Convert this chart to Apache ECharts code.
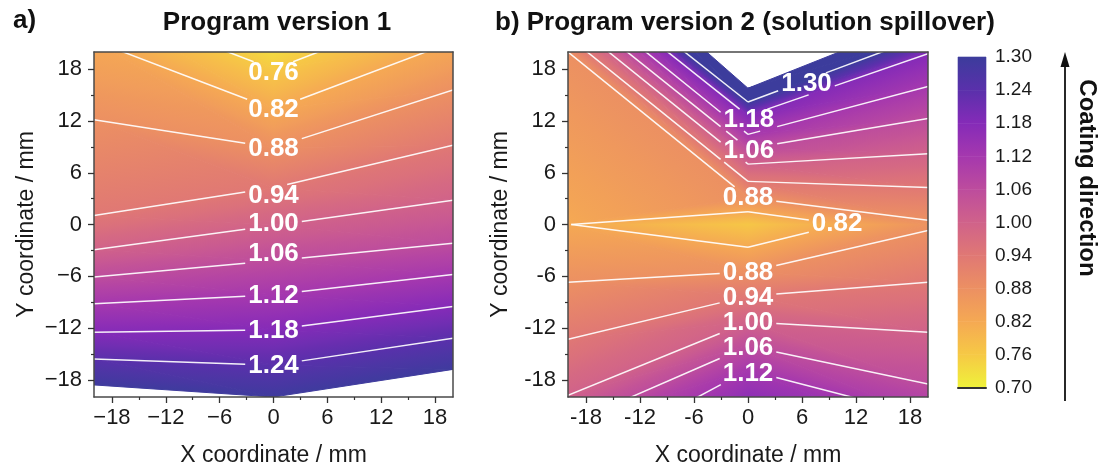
<!DOCTYPE html>
<html>
<head>
<meta charset="utf-8">
<title>Coating thickness maps</title>
<script src="https://cdn.jsdelivr.net/npm/echarts@6/dist/echarts.min.js"></script>
<style>
    html, body { margin: 0; padding: 0; background: #fff; }
    #thickness-chart { width: 1106px; height: 472px; }
</style>
</head>
<body>
<div id="thickness-chart"></div>
<script>
    // measuring columns across the sample (x / mm)
    var columnX = [-20, 0, 20];

    // program version 1: rows of equal thickness, y / mm where each column reaches the value
    var valueA   = [0.70, 0.76, 0.82, 0.88, 0.94, 1.00, 1.06, 1.12, 1.18, 1.24, 1.295];
    var leftYA   = [30.5, 25.9, 21.3, 12.15, 1.05, -2.94, -6.1, -9.2, -12.5, -15.6, -18.6];
    var centerYA = [22.65, 18.0, 13.35, 8.9, 4.27, -0.1, -4.2, -8.15, -12.2, -16.3, -20];
    var rightYA  = [30.8, 26.0, 21.2, 15.6, 9.2, 2.8, -2.17, -5.8, -9.5, -13.2, -16.8];

    // program version 2 (solution spillover)
    var leftYB       = [34.1, 30.7, 29.2, 27.3, 25.5, 23.8, 21.8, 20.0, 0, -6.7, -13.3, -19.8, -23.2, -28, -31];
    var centerYB     = [15.8, 14.2, 12.6, 10.45, 8.8, 7.0, 5.0, 3.1, 0, -5.5, -8.3, -11.3, -14.1, -16.9, -20.5];
    var rightYB      = [24.1, 22.0, 19.8, 16.0, 12.3, 8.2, 4.3, 0.5, 0, -0.7, -6.7, -12.5, -18.5, -22.3, -25];
    var leftValueB   = [1.34, 1.30, 1.18, 1.12, 1.06, 1.00, 0.94, 0.88, 0.821, 0.88, 0.94, 1.00, 1.06, 1.12, 1.17];
    var centerValueB = [1.34, 1.30, 1.18, 1.12, 1.06, 1.00, 0.94, 0.88, 0.765, 0.88, 0.94, 1.00, 1.06, 1.12, 1.17];
    var rightValueB  = [1.34, 1.30, 1.18, 1.12, 1.06, 1.00, 0.94, 0.88, 0.872, 0.88, 0.94, 1.00, 1.06, 1.12, 1.17];

    // contour lines that are drawn
    var levelsA = [0.76, 0.82, 0.88, 0.94, 1.00, 1.06, 1.12, 1.18, 1.24];
    var levelsB = [0.82, 0.88, 0.94, 1.00, 1.06, 1.12, 1.18, 1.30];

    // contour labels
    var labelPosA  = [[0, 17.6], [0, 13.24], [0, 8.79], [0, 3.37], [0, 0.08], [0, -3.4], [0, -8.25], [0, -12.3], [0, -16.4]];
    var labelTextA = ['0.76', '0.82', '0.88', '0.94', '1.00', '1.06', '1.12', '1.18', '1.24'];
    var labelPosB  = [[6.5, 16.3], [0.1, 12.1], [0.1, 8.5], [0, 3.08], [9.9, 0.08], [0, -5.63], [0, -8.54], [0, -11.44], [0, -14.34], [0, -17.3]];
    var labelTextB = ['1.30', '1.18', '1.06', '0.88', '0.82', '0.88', '0.94', '1.00', '1.06', '1.12'];

    // colour scale
    var scaleValues = [0.70, 0.76, 0.82, 0.88, 0.94, 1.00, 1.06, 1.12, 1.18, 1.24, 1.30];
    var scaleColors = ['#eff23a', '#f6c945', '#f5a953', '#ec9062', '#e07874', '#d0628a',
                       '#bd4c9d', '#a538ae', '#852bb8', '#5a30ab', '#3c3c9c'];

    var majorTicks = [-18, -12, -6, 0, 6, 12, 18];
    var minorTicks = [-15, -9, -3, 3, 9, 15];

    var FONT = '"Liberation Sans", Arial, Helvetica, sans-serif';

    function hexRgb(h) {
        return [parseInt(h.substr(1, 2), 16), parseInt(h.substr(3, 2), 16), parseInt(h.substr(5, 2), 16)];
    }
    function colorAt(v) {
        var n = scaleValues.length;
        if (v <= scaleValues[0]) return scaleColors[0];
        if (v >= scaleValues[n - 1]) return scaleColors[n - 1];
        for (var i = 0; i < n - 1; i++) {
            if (v <= scaleValues[i + 1]) {
                var t = (v - scaleValues[i]) / (scaleValues[i + 1] - scaleValues[i]);
                var a = hexRgb(scaleColors[i]), b = hexRgb(scaleColors[i + 1]);
                return 'rgb(' + Math.round(a[0] + t * (b[0] - a[0])) + ',' +
                    Math.round(a[1] + t * (b[1] - a[1])) + ',' +
                    Math.round(a[2] + t * (b[2] - a[2])) + ')';
            }
        }
    }

    // split the grid of columns/rows into triangles [x,y,v, x,y,v, x,y,v]
    function triangles(ys, vs) {
        var out = [];
        for (var c = 0; c < columnX.length - 1; c++) {
            for (var r = 0; r < ys[c].length - 1; r++) {
                var p00 = [columnX[c], ys[c][r], vs[c][r]];
                var p10 = [columnX[c + 1], ys[c + 1][r], vs[c + 1][r]];
                var p01 = [columnX[c], ys[c][r + 1], vs[c][r + 1]];
                var p11 = [columnX[c + 1], ys[c + 1][r + 1], vs[c + 1][r + 1]];
                if (Math.abs(p00[2] - p11[2]) <= Math.abs(p10[2] - p01[2]) + 1e-9) {
                    out.push(p00.concat(p10, p11));
                    out.push(p00.concat(p11, p01));
                } else {
                    out.push(p00.concat(p10, p01));
                    out.push(p10.concat(p11, p01));
                }
            }
        }
        return out;
    }

    var trisA = triangles([leftYA, centerYA, rightYA], [valueA, valueA, valueA]);
    var trisB = triangles([leftYB, centerYB, rightYB], [leftValueB, centerValueB, rightValueB]);

    function readTri(api) {
        var pts = [], vals = [];
        for (var k = 0; k < 3; k++) {
            pts.push(api.coord([api.value(3 * k), api.value(3 * k + 1)]));
            vals.push(api.value(3 * k + 2));
        }
        return {pts: pts, vals: vals};
    }

    function clipRect(params) {
        var cs = params.coordSys;
        return {type: 'rect', shape: {x: cs.x, y: cs.y, width: cs.width, height: cs.height}};
    }

    function renderFill(params, api) {
        var t = readTri(api), p = t.pts, v = t.vals;
        var vmin = Math.min(v[0], v[1], v[2]), vmax = Math.max(v[0], v[1], v[2]);
        var e1x = p[1][0] - p[0][0], e1y = p[1][1] - p[0][1];
        var e2x = p[2][0] - p[0][0], e2y = p[2][1] - p[0][1];
        var det = e1x * e2y - e1y * e2x;
        var fill;
        if (vmax - vmin < 1e-6 || Math.abs(det) < 1e-9) {
            fill = colorAt((vmin + vmax) / 2);
        } else {
            var d1 = v[1] - v[0], d2 = v[2] - v[0];
            var gx = (d1 * e2y - e1y * d2) / det;
            var gy = (e1x * d2 - d1 * e2x) / det;
            var g2 = gx * gx + gy * gy;
            var sx = p[0][0] + (vmin - v[0]) * gx / g2, sy = p[0][1] + (vmin - v[0]) * gy / g2;
            var ex = p[0][0] + (vmax - v[0]) * gx / g2, ey = p[0][1] + (vmax - v[0]) * gy / g2;
            var stops = [];
            for (var i = 0; i <= 6; i++) {
                stops.push({offset: i / 6, color: colorAt(vmin + (vmax - vmin) * i / 6)});
            }
            fill = new echarts.graphic.LinearGradient(sx, sy, ex, ey, stops, true);
        }
        return {
            type: 'polygon',
            shape: {points: p},
            style: {fill: fill, stroke: fill, lineWidth: 1},
            clipPath: clipRect(params)
        };
    }

    function labelWidth(s) {
        var w = 0;
        for (var i = 0; i < s.length; i++) w += (s[i] === '.' ? 0.278 : 0.556);
        return w * 26;
    }

    // part of segment P-Q that lies inside box b, as [t0, t1]
    function insideRange(P, Q, b) {
        var dx = Q[0] - P[0], dy = Q[1] - P[1];
        var t0 = 0, t1 = 1;
        var pp = [-dx, dx, -dy, dy];
        var qq = [P[0] - b[0], b[2] - P[0], P[1] - b[1], b[3] - P[1]];
        for (var i = 0; i < 4; i++) {
            if (pp[i] === 0) {
                if (qq[i] < 0) return null;
            } else {
                var r = qq[i] / pp[i];
                if (pp[i] < 0) { if (r > t1) return null; if (r > t0) t0 = r; }
                else { if (r < t0) return null; if (r < t1) t1 = r; }
            }
        }
        return [t0, t1];
    }

    function cutOut(P, Q, boxes) {
        var parts = [[0, 1]];
        boxes.forEach(function (b) {
            var hole = insideRange(P, Q, b);
            if (!hole) return;
            var next = [];
            parts.forEach(function (s) {
                if (hole[1] <= s[0] || hole[0] >= s[1]) { next.push(s); return; }
                if (hole[0] > s[0]) next.push([s[0], hole[0]]);
                if (hole[1] < s[1]) next.push([hole[1], s[1]]);
            });
            parts = next;
        });
        return parts.map(function (s) {
            return [[P[0] + s[0] * (Q[0] - P[0]), P[1] + s[0] * (Q[1] - P[1])],
                    [P[0] + s[1] * (Q[0] - P[0]), P[1] + s[1] * (Q[1] - P[1])]];
        });
    }

    function lineRenderer(levels, labelPos, labelText) {
        return function (params, api) {
            var t = readTri(api), p = t.pts, v = t.vals;
            var boxes = labelPos.map(function (lp, i) {
                var c = api.coord(lp);
                var hw = labelWidth(labelText[i]) / 2 + 3;
                return [c[0] - hw, c[1] - 11, c[0] + hw, c[1] + 11];
            });
            var children = [];
            levels.forEach(function (lv) {
                var cut = [];
                for (var a = 0; a < 3; a++) {
                    var b = (a + 1) % 3;
                    var ua = v[a] > lv + 1e-9, ub = v[b] > lv + 1e-9;
                    if (ua !== ub) {
                        var f = (lv - v[a]) / (v[b] - v[a]);
                        cut.push([p[a][0] + f * (p[b][0] - p[a][0]), p[a][1] + f * (p[b][1] - p[a][1])]);
                    }
                }
                if (cut.length !== 2) return;
                if (Math.abs(cut[0][0] - cut[1][0]) + Math.abs(cut[0][1] - cut[1][1]) < 0.01) return;
                cutOut(cut[0], cut[1], boxes).forEach(function (s) {
                    children.push({
                        type: 'line',
                        shape: {x1: s[0][0], y1: s[0][1], x2: s[1][0], y2: s[1][1]},
                        style: {stroke: '#ffffff', lineWidth: 1.5, opacity: 0.92}
                    });
                });
            });
            return {type: 'group', children: children, clipPath: clipRect(params)};
        };
    }

    function labelRenderer(labelText) {
        return function (params, api) {
            var c = api.coord([api.value(0), api.value(1)]);
            return {
                type: 'text',
                x: c[0], y: c[1],
                style: {
                    text: labelText[params.dataIndex],
                    fill: '#ffffff',
                    fontSize: 26, fontWeight: 'bold', fontFamily: FONT,
                    align: 'center', verticalAlign: 'middle'
                }
            };
        };
    }

    function renderScale(params, api) {
        var lo = api.coord([0, api.value(0)]), hi = api.coord([1, api.value(1)]);
        var g = new echarts.graphic.LinearGradient(0, lo[1], 0, hi[1], [
            {offset: 0, color: colorAt(api.value(0))},
            {offset: 1, color: colorAt(api.value(1))}
        ], true);
        return {
            type: 'rect',
            shape: {x: lo[0], y: hi[1], width: hi[0] - lo[0], height: lo[1] - hi[1]},
            style: {fill: g, stroke: g, lineWidth: 0.6}
        };
    }

    var scaleBands = [];
    for (var i = 0; i < scaleValues.length - 1; i++) scaleBands.push([scaleValues[i], scaleValues[i + 1]]);

    function minusFmt(v) { return v < 0 ? '\u2212' + Math.abs(v) : '' + v; }

    function axesFor(grid, dir, fmt) {
        var isX = dir === 'x';
        var main = {
            type: 'value', gridIndex: grid, min: -20, max: 20, z: 10,
            position: isX ? 'bottom' : 'left',
            name: isX ? 'X coordinate / mm' : 'Y coordinate / mm',
            nameLocation: 'middle', nameGap: isX ? 47 : 56,
            nameTextStyle: {fontSize: 23, color: '#1a1a1a', fontFamily: FONT},
            axisLine: {show: true, onZero: false, lineStyle: {color: '#4a4a4a', width: 1.5}},
            axisTick: {show: true, customValues: majorTicks, length: 6, lineStyle: {color: '#333', width: 1.3}},
            axisLabel: {customValues: majorTicks, fontSize: 22, color: '#1a1a1a', fontFamily: FONT,
                        margin: isX ? 10 : 12},
            splitLine: {show: false}
        };
        if (fmt) main.axisLabel.formatter = fmt;
        var minor = {
            type: 'value', gridIndex: grid, min: -20, max: 20, z: 10,
            position: isX ? 'bottom' : 'left',
            axisLine: {show: false, onZero: false},
            axisTick: {show: true, customValues: minorTicks, length: 3, lineStyle: {color: '#333', width: 1.2}},
            axisLabel: {show: false},
            splitLine: {show: false}
        };
        var far = {
            type: 'value', gridIndex: grid, min: -20, max: 20, z: 10,
            position: isX ? 'top' : 'right',
            axisLine: {show: true, onZero: false, lineStyle: {color: '#4a4a4a', width: 1.5}},
            axisTick: {show: false},
            axisLabel: {show: false},
            splitLine: {show: false}
        };
        return [main, minor, far];
    }

    var xAxes = axesFor(0, 'x', minusFmt).concat(axesFor(1, 'x', null));
    var yAxes = axesFor(0, 'y', minusFmt).concat(axesFor(1, 'y', null));

    xAxes.push({
        type: 'value', gridIndex: 2, min: 0, max: 1, z: 10,
        axisLine: {show: true, onZero: false, lineStyle: {color: '#333', width: 2}},
        axisTick: {show: false}, axisLabel: {show: false}, splitLine: {show: false}
    });
    yAxes.push({
        type: 'value', gridIndex: 2, min: 0.70, max: 1.30, position: 'right',
        axisLine: {show: false, onZero: false}, axisTick: {show: false}, splitLine: {show: false},
        axisLabel: {customValues: scaleValues, fontSize: 19, color: '#1a1a1a', fontFamily: FONT, margin: 9,
                    formatter: function (v) { return v.toFixed(2); }}
    });

    var chart = echarts.init(document.getElementById('thickness-chart'));

    chart.setOption({
        animation: false,
        backgroundColor: '#ffffff',
        grid: [
            {left: 94, top: 52, width: 359, height: 345},
            {left: 568, top: 52, width: 360, height: 345},
            {left: 958, top: 57, width: 28, height: 331}
        ],
        xAxis: xAxes,
        yAxis: yAxes,
        series: [
            {type: 'custom', xAxisIndex: 0, yAxisIndex: 0, data: trisA, renderItem: renderFill,
             encode: {x: [0, 3, 6], y: [1, 4, 7]}, z: 2},
            {type: 'custom', xAxisIndex: 0, yAxisIndex: 0, data: trisA,
             renderItem: lineRenderer(levelsA, labelPosA, labelTextA),
             encode: {x: [0, 3, 6], y: [1, 4, 7]}, z: 3},
            {type: 'custom', xAxisIndex: 0, yAxisIndex: 0, data: labelPosA,
             renderItem: labelRenderer(labelTextA), encode: {x: 0, y: 1}, z: 4},
            {type: 'custom', xAxisIndex: 3, yAxisIndex: 3, data: trisB, renderItem: renderFill,
             encode: {x: [0, 3, 6], y: [1, 4, 7]}, z: 2},
            {type: 'custom', xAxisIndex: 3, yAxisIndex: 3, data: trisB,
             renderItem: lineRenderer(levelsB, labelPosB, labelTextB),
             encode: {x: [0, 3, 6], y: [1, 4, 7]}, z: 3},
            {type: 'custom', xAxisIndex: 3, yAxisIndex: 3, data: labelPosB,
             renderItem: labelRenderer(labelTextB), encode: {x: 0, y: 1}, z: 4},
            {type: 'custom', xAxisIndex: 6, yAxisIndex: 6, data: scaleBands, renderItem: renderScale,
             encode: {y: [0, 1]}, z: 2}
        ],
        graphic: [
            {type: 'text', left: 13, top: 8,
             style: {text: 'a)', fontSize: 26, fontWeight: 'bold', fontFamily: FONT, fill: '#111'}},
            {type: 'text', x: 277, y: 23,
             style: {text: 'Program version 1', fontSize: 26, fontWeight: 'bold', fontFamily: FONT, fill: '#111',
                     align: 'center', verticalAlign: 'middle'}},
            {type: 'text', x: 495, y: 23,
             style: {text: 'b) Program version 2 (solution spillover)', fontSize: 26, fontWeight: 'bold',
                     fontFamily: FONT, fill: '#111', align: 'left', verticalAlign: 'middle'}},
            {type: 'line', shape: {x1: 1065, y1: 401, x2: 1065, y2: 64},
             style: {stroke: '#111', lineWidth: 1.8}},
            {type: 'polygon', shape: {points: [[1065, 52], [1060.5, 67], [1069.5, 67]]},
             style: {fill: '#111'}},
            {type: 'text', x: 1087, y: 178, rotation: -Math.PI / 2,
             style: {text: 'Coating direction', fontSize: 24, fontWeight: 'bold', fontFamily: FONT, fill: '#111',
                     align: 'center', verticalAlign: 'middle'}}
        ]
    });
</script>
</body>
</html>
